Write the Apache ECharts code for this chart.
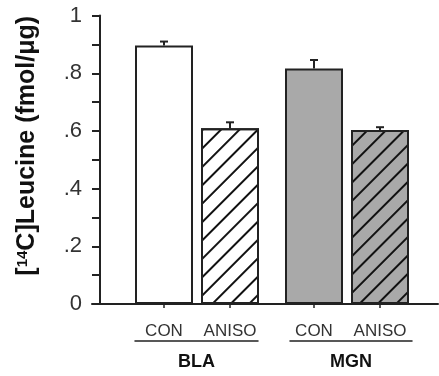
<!DOCTYPE html>
<html>
<head>
<meta charset="utf-8">
<script src="https://cdn.jsdelivr.net/npm/echarts@6/dist/echarts.min.js"></script>
<style>
html,body{margin:0;padding:0;background:#fff;}
#chart{width:439px;height:376px;}
</style>
</head>
<body>
<div id="chart"></div>
<script>
// ---- data ----
const conditions = ['CON', 'ANISO'];
const regions = ['BLA', 'MGN'];
const blaValues = [0.896, 0.609];
const blaErrors = [0.014, 0.021];
const mgnValues = [0.817, 0.603];
const mgnErrors = [0.029, 0.010];
const yTickLabels = ['0', '.2', '.4', '.6', '.8', '1'];
const yAxisTitle = '[{sup|14}C]Leucine (fmol/\u03bcg)';

// ---- styles ----
const FONT = 'Liberation Sans, Arial, Helvetica, sans-serif';
const INK = '#222';
const GRAY = '#a9a9a9';
const hatch = {
  symbol: 'rect', symbolSize: 1,
  dashArrayX: [1, 0], dashArrayY: [2, 11],
  rotation: -Math.PI / 4, color: '#111'
};
const TOP = 15.6, BOTTOM = 72;

function barData(values, fills, decals) {
  return values.map((v, i) => ({
    value: v,
    itemStyle: Object.assign({ color: fills[i], borderColor: INK, borderWidth: 2 },
      decals[i] ? { decal: hatch } : {})
  }));
}
function errData(values, errors) {
  return values.map((v, i) => [i, v, v + errors[i]]);
}
function renderErr(params, api) {
  const i = api.value(0);
  const base = api.coord([i, api.value(1)]);
  const top = api.coord([i, api.value(2)]);
  return {
    type: 'group',
    children: [
      { type: 'line', shape: { x1: base[0], y1: base[1], x2: top[0], y2: top[1] }, style: { stroke: INK, lineWidth: 2 } },
      { type: 'line', shape: { x1: top[0] - 4, y1: top[1], x2: top[0] + 4, y2: top[1] }, style: { stroke: INK, lineWidth: 2 } }
    ]
  };
}

const hiddenY = (gi) => ({ type: 'value', gridIndex: gi, min: 0, max: 1, show: false });
const hiddenX = (gi) => ({ type: 'value', gridIndex: gi, min: 0, max: 1, show: false });
const catX = (gi) => ({
  type: 'category', gridIndex: gi, data: conditions,
  axisLine: { show: false, onZero: false },
  axisTick: { show: true, alignWithLabel: true, length: 4, lineStyle: { color: INK, width: 1.5 } },
  axisLabel: { interval: 0, margin: 19, fontFamily: FONT, fontSize: 17, color: '#333' }
});
const groupX = (gi, name) => ({
  type: 'value', gridIndex: gi, min: 0, max: 1, position: 'bottom', offset: 40,
  axisLine: { show: true, onZero: false, lineStyle: { color: INK, width: 1.5 } },
  axisTick: { show: false }, axisLabel: { show: false }, splitLine: { show: false },
  name: name, nameLocation: 'middle', nameGap: 12,
  nameTextStyle: { fontFamily: FONT, fontSize: 18, fontWeight: 'bold', color: '#111' }
});

const option = {
  animation: false,
  backgroundColor: '#fff',
  grid: [
    { left: 92, right: 1, top: TOP, bottom: BOTTOM },
    { left: 131, width: 132, top: TOP, bottom: BOTTOM },
    { left: 281, width: 132, top: TOP, bottom: BOTTOM },
    { left: 135, width: 123, top: TOP, bottom: BOTTOM },
    { left: 290, width: 122, top: TOP, bottom: BOTTOM },
    { left: 100, right: 1, top: TOP, bottom: BOTTOM }
  ],
  xAxis: [
    { type: 'value', gridIndex: 0, min: 0, max: 1,
      axisLine: { show: true, onZero: false, lineStyle: { color: INK, width: 2 } },
      axisTick: { show: false }, axisLabel: { show: false }, splitLine: { show: false } },
    catX(1), catX(2),
    groupX(3, regions[0]), groupX(4, regions[1]),
    hiddenX(5)
  ],
  yAxis: [
    hiddenY(0), hiddenY(1), hiddenY(2), hiddenY(3), hiddenY(4),
    { type: 'value', gridIndex: 5, min: 0, max: 1, interval: 0.1,
      axisLine: { show: true, onZero: false, lineStyle: { color: INK, width: 2 } },
      axisTick: { show: true, inside: false, length: 8, lineStyle: { color: INK, width: 2 } },
      splitLine: { show: false },
      axisLabel: {
        margin: 18, fontFamily: FONT, fontSize: 22, color: '#333',
        formatter: (v) => { const k = Math.round(v * 10); return k % 2 ? '' : yTickLabels[k / 2]; }
      },
      name: yAxisTitle, nameLocation: 'middle', nameGap: 60,
      nameTextStyle: {
        fontFamily: FONT, fontSize: 25, fontWeight: 'bold', color: '#111',
        padding: [0, 0, 0, 28],
        rich: { sup: { fontFamily: FONT, fontSize: 15, fontWeight: 'bold', color: '#111', padding: [0, 0, 10, 0] } }
      }
    }
  ],
  series: [
    { type: 'bar', xAxisIndex: 1, yAxisIndex: 1, barWidth: 58,
      data: barData(blaValues, ['#fff', '#fff'], [false, true]) },
    { type: 'bar', xAxisIndex: 2, yAxisIndex: 2, barWidth: 58,
      data: barData(mgnValues, [GRAY, GRAY], [false, true]) },
    { type: 'custom', xAxisIndex: 1, yAxisIndex: 1, z: 5, renderItem: renderErr,
      encode: { x: 0, y: [1, 2] }, data: errData(blaValues, blaErrors) },
    { type: 'custom', xAxisIndex: 2, yAxisIndex: 2, z: 5, renderItem: renderErr,
      encode: { x: 0, y: [1, 2] }, data: errData(mgnValues, mgnErrors) }
  ]
};

const chart = echarts.init(document.getElementById('chart'), null, { renderer: 'canvas' });
chart.setOption(option);
</script>
</body>
</html>
